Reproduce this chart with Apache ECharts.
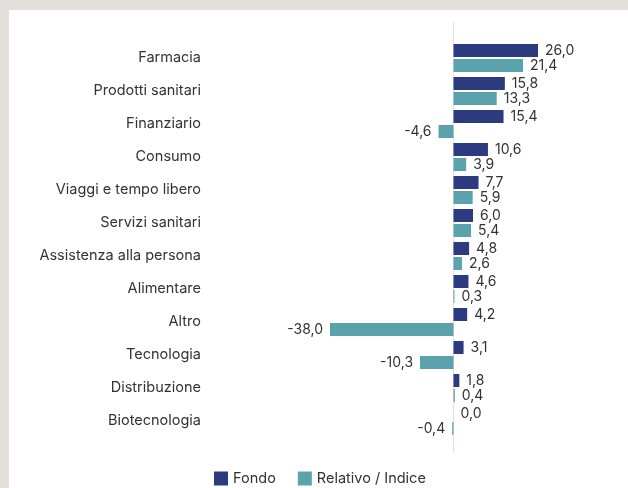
<!DOCTYPE html>
<html>
<head>
<meta charset="utf-8">
<script src="https://cdn.jsdelivr.net/npm/echarts@6/dist/echarts.min.js"></script>
<style>
	html, body { margin: 0; padding: 0; background: #e3dfda; }
	.panel { position: absolute; left: 9px; top: 10px; width: 619px; height: 478px; background: #fff; }
	#chart { position: absolute; left: 0; top: 0; width: 628px; height: 488px; }
</style>
</head>
<body>
<div class="panel"></div>
<div id="chart"></div>
<script>
	var categories = ['Farmacia', 'Prodotti sanitari', 'Finanziario', 'Consumo', 'Viaggi e tempo libero',
		'Servizi sanitari', 'Assistenza alla persona', 'Alimentare', 'Altro', 'Tecnologia',
		'Distribuzione', 'Biotecnologia'];
	var fondo = [26.0, 15.8, 15.4, 10.6, 7.7, 6.0, 4.8, 4.6, 4.2, 3.1, 1.8, 0.0];
	var relativo = [21.4, 13.3, -4.6, 3.9, 5.9, 5.4, 2.6, 0.3, -38.0, -10.3, 0.4, -0.4];

	var font = 'Inter, "Noto Sans", sans-serif';

	// etichette a destra per i positivi, a sinistra per i negativi
	function withLabels(arr) {
		return arr.map(function(v) {
			return { value: v, label: { position: v < 0 ? 'left' : 'right' } };
		});
	}

	function fmt(p) {
		return p.value.toFixed(1).replace('.', ',');
	}

	var chart = echarts.init(document.getElementById('chart'));
	chart.setOption({
		animation: false,
		textStyle: { fontFamily: font },
		grid: { left: 330, right: 90, top: 41.5, bottom: 50.5 },
		legend: {
			left: 209, top: 466,
			itemWidth: 14, itemHeight: 14, itemGap: 22,
			icon: 'rect',
			textStyle: { fontSize: 14.5, color: '#333', fontFamily: font },
			data: ['Fondo', 'Relativo / Indice']
		},
		xAxis: {
			type: 'value', min: -38, max: 26,
			show: false
		},
		yAxis: {
			type: 'category',
			inverse: true,
			data: categories,
			axisLine: { show: false, onZero: false },
			axisTick: { show: false },
			axisLabel: { margin: 129, fontSize: 14.5, color: '#333', fontFamily: font }
		},
		series: [{
				name: 'Fondo',
				type: 'bar',
				barWidth: 13,
				barGap: '15%',
				itemStyle: { color: '#2c3b80' },
				label: { show: true, distance: 7, fontSize: 14, color: '#333', fontFamily: font, formatter: fmt },
				data: withLabels(fondo)
			},
			{
				name: 'Relativo / Indice',
				type: 'bar',
				barWidth: 13,
				itemStyle: { color: '#5aa2ac' },
				label: { show: true, distance: 7, fontSize: 14, color: '#333', fontFamily: font, formatter: fmt },
				data: withLabels(relativo)
			}
		]
	});

	// linea dello zero, un po' più lunga dell'area delle barre
	var x0 = chart.convertToPixel({ xAxisIndex: 0 }, 0);
	chart.setOption({
		graphic: [{
			type: 'line', z: 0,
			shape: { x1: x0, y1: 22, x2: x0, y2: 453 },
			style: { stroke: '#e2e2e2', lineWidth: 1 }
		}]
	});
</script>
</body>
</html>
